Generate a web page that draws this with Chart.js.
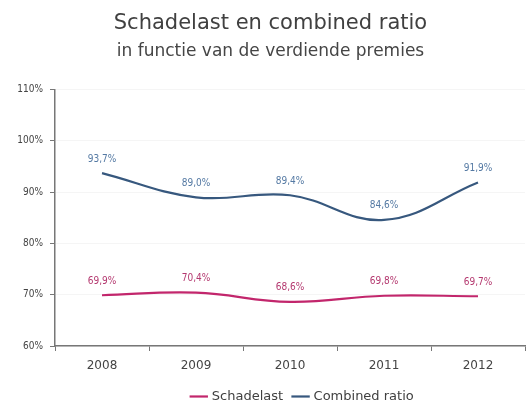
<!DOCTYPE html>
<html lang="nl">
  <head>
    <meta charset="UTF-8" />
    <meta name="viewport" content="width=device-width, initial-scale=1.0" />
    <script src="https://cdn.jsdelivr.net/npm/chart.js@4.4.1/dist/chart.umd.min.js"></script>
    <title>Schadelast en combined ratio</title>
    <style>
      html, body { margin: 0; padding: 0; background: #fff; }
      #wrap { width: 526px; height: 403px; }
    </style>
  </head>
  <body>
    <div id="wrap"><canvas id="myChart"></canvas></div>
    <script>
      const jaren = ["2008", "2009", "2010", "2011", "2012"];
      const schadelast = [69.9, 70.4, 68.6, 69.8, 69.7];
      const combinedRatio = [93.7, 89.0, 89.4, 84.6, 91.9];
      const yTicks = [60, 70, 80, 90, 100, 110];

      const font = "'DejaVu Sans', Verdana, sans-serif";
      const fontCond = "'DejaVu Sans Condensed', 'DejaVu Sans', sans-serif";

      // writes the value above every point, Dutch decimal comma
      const valueLabels = {
        id: "valueLabels",
        afterDatasetsDraw(chart) {
          const ctx = chart.ctx;
          ctx.save();
          ctx.font = "10px " + fontCond;
          ctx.textAlign = "center";
          ctx.textBaseline = "middle";
          chart.data.datasets.forEach((ds, i) => {
            const meta = chart.getDatasetMeta(i);
            ctx.fillStyle = ds.labelColor;
            meta.data.forEach((pt, j) => {
              const txt = ds.data[j].toFixed(1).replace(".", ",") + "%";
              ctx.fillText(txt, pt.x, pt.y - 14);
            });
          });
          ctx.restore();
        },
      };

      // nudge the legend a little right of the plot centre
      const legendShift = {
        id: "legendShift",
        beforeDraw(chart) {
          chart.legend.left += 13;
          chart.legend.right += 13;
        },
      };

      let ctx = document.getElementById("myChart").getContext("2d");
      let myChart = new Chart(ctx, {
        type: "line",
        data: {
          labels: jaren,
          datasets: [
            {
              label: "Schadelast",
              data: schadelast,
              borderColor: "#c2266c",
              backgroundColor: "#c2266c",
              labelColor: "#b4386f",
              borderWidth: 2.2,
              tension: 0.4,
              pointRadius: 0,
            },
            {
              label: "Combined ratio",
              data: combinedRatio,
              borderColor: "#37587e",
              backgroundColor: "#37587e",
              labelColor: "#5479a3",
              borderWidth: 2.2,
              tension: 0.4,
              pointRadius: 0,
            },
          ],
        },
        options: {
          responsive: true,
          maintainAspectRatio: false,
          animation: false,
          layout: { padding: { left: 16, right: 1, bottom: 2 } },
          plugins: {
            title: {
              display: true,
              text: "Schadelast en combined ratio",
              color: "#404040",
              font: { family: font, size: 21, weight: "normal" },
              padding: { top: 11, bottom: 3 },
            },
            subtitle: {
              display: true,
              text: "in functie van de verdiende premies",
              color: "#454545",
              font: { family: font, size: 17, weight: "normal" },
              padding: { top: 2, bottom: 28 },
            },
            legend: {
              position: "bottom",
              fullSize: false,
              maxHeight: 22,
              labels: {
                usePointStyle: true,
                pointStyle: "line",
                boxWidth: 18,
                padding: 11,
                color: "#404040",
                font: { family: font, size: 13 },
              },
            },
            tooltip: { enabled: false },
          },
          scales: {
            x: {
              offset: true,
              afterFit: (s) => {
                s.height = 33;
              },
              grid: {
                offset: true,
                drawOnChartArea: false,
                tickLength: 5,
                tickColor: "#777",
              },
              border: { color: "#777", width: 1.5 },
              ticks: {
                color: "#444",
                padding: 8,
                font: { family: font, size: 12 },
              },
            },
            y: {
              min: 60,
              max: 110,
              afterBuildTicks: (s) => {
                s.ticks = yTicks.map((v) => ({ value: v }));
              },
              afterFit: (s) => {
                s.width = 39;
              },
              grid: {
                color: "rgba(0,0,0,0.04)",
                tickLength: 5,
                tickColor: "#777",
              },
              border: { color: "#777", width: 1.5 },
              ticks: {
                color: "#444",
                padding: 7,
                font: { family: fontCond, size: 10 },
                callback: (v) => v + "%",
              },
            },
          },
        },
        plugins: [valueLabels, legendShift],
      });
    </script>
  </body>
</html>
